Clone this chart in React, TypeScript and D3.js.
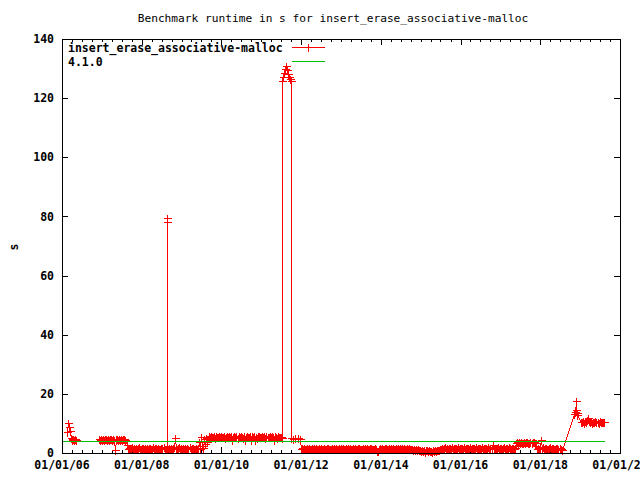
import React from "react";
import * as d3 from "d3";

const W = 640;
const H = 480;
const titleText = "Benchmark runtime in s for insert_erase_associative-malloc";
const seriesName = "insert_erase_associative-malloc";
const refName = "4.1.0";
const yLabel = "s";
const yTicks = [0, 20, 40, 60, 80, 100, 120, 140];
const xMajorTicks = ["2006-01-01", "2008-01-01", "2010-01-01", "2012-01-01", "2014-01-01", "2016-01-01", "2018-01-01", "2020-01-01"];
const xDomain = ["2006-01-01", "2020-01-01"];

const valsA = [7.2, 10.2, 8.9, 7.5, 5.2, 4.6, 4.4, 4.7, 4.3, 4.6, 4.5];
const valsB = [4.6, 4.4, 4.8, 4.5, 4.7, 4.3, 4.6, 4.9, 4.5, 4.7, 4.4, 4.8, 4.6, 4.3, 4.7, 4.5, 1.0, 4.6, 4.8, 4.4, 4.7, 4.5, 4.9, 4.3, 4.6, 4.8, 4.4];
const valsC1 = [
  2.6, 1.5, 1.8, 1.3, 1.6, 1.9, 1.4, 1.7, 1.5, 1.8,
  1.3, 1.6, 1.9, 1.5, 1.4, 1.7, 1.8, 1.3, 1.6, 1.5,
  1.7, 1.4, 1.8, 1.6, 1.3, 1.5, 1.9, 1.4, 1.7, 1.6,
  1.3, 1.8, 1.5, 1.4, 1.7, 1.6, 1.9, 1.3, 1.5, 1.6,
];
const valsSpike1 = [79.3, 78.2];
const valsC2 = [
  1.6, 1.4, 1.8, 1.5, 1.7, 1.3, 1.6, 1.9, 5.0, 1.7,
  1.3, 1.6, 1.9, 1.4, 1.7, 1.5, 1.8, 1.3, 1.6, 1.4,
  1.7, 1.5, 1.9, 1.3, 1.6, 1.8, 1.4, 1.5, 1.7, 1.3,
  1.6, 3.6, 1.5, 5.4, 2.4, 1.8, 4.7, 3.2, 5.0, 3.8,
];
const valsD = [
  5.6, 5.3, 5.8, 5.4, 5.5, 5.7, 5.2, 5.6, 5.5, 5.3,
  5.8, 5.3, 5.6, 5.4, 5.4, 5.7, 5.2, 5.5, 5.8, 5.3,
  5.6, 5.4, 5.7, 4.3, 5.5, 5.8, 5.3, 5.6, 5.2, 5.6,
  5.4, 5.7, 5.5, 5.2, 5.6, 4.4, 5.3, 5.8, 5.5, 5.4,
  5.7, 4.3, 5.6, 5.3, 5.8, 4.4, 5.5, 5.2, 5.6, 5.7,
  5.4, 5.3, 5.8, 5.5, 5.6, 5.2, 5.7, 5.4, 5.5, 5.8,
  5.3, 5.6, 5.4, 4.4, 5.7, 5.5, 5.2, 5.6, 5.4, 5.3,
  5.5, 5.0,
];
const valsSpike2 = [125.8, 127.0, 128.5, 130.0, 130.8, 129.5, 128.0, 127.2, 126.5, 125.8];
const valsPost = [5.0, 4.9, 5.1, 5.0, 4.8];
const valsE = [
  1.3, 1.6, 1.4, 1.8, 1.5, 1.3, 1.7, 1.4, 1.6, 1.2,
  1.5, 1.8, 1.3, 1.6, 1.4, 1.7, 1.3, 1.5, 1.8, 1.4,
  1.6, 1.3, 1.5, 1.7, 1.4, 1.2, 1.6, 1.8, 1.3, 1.5,
  1.4, 1.7, 1.3, 1.6, 1.5, 1.8, 1.4, 1.3, 1.7, 1.5,
  1.6, 1.4, 1.8, 1.3, 1.5, 1.7, 1.4, 1.6, 1.3, 1.8,
  1.5, 1.3, 1.6, 1.4, 1.7, 1.5, 1.2, 1.6, 1.8, 1.4,
  1.3, 1.5, 1.7, 1.4, 1.6, 1.3, 1.8, 1.5, 1.4, 1.6,
  1.7, 1.3, 1.5, 1.4, 1.6, 1.3, 0.6, 0.7, 1.4, 1.6,
  1.3, 1.7, 1.5, 1.4, 1.8, 1.6, 1.3, 1.5, 1.7, 1.4,
  1.6, 1.3, 1.8, 1.5, 1.4, 1.7, 1.3, 1.6, 1.5, 1.8,
  1.4, 1.6, 1.3, 1.7, 1.5, 1.4, 1.8, 1.3, 1.6, 1.5,
  1.4, 1.2, 1.1, 1.3, 0.9, 1.2, 1.0, 1.3, 1.1, 0.9,
  0.6, 1.0, 0.8, 1.1, 0.5, 0.9, 1.0, 0.7, 1.1, 0.8,
  0.6, 0.5, 0.9, 0.7, 1.1, 0.8, 1.0, 0.9, 1.0, 1.2,
  1.5, 1.8, 1.4, 1.6, 1.9, 1.5, 1.7, 1.4, 1.8, 1.6,
  1.5, 1.9, 1.4, 1.7, 1.6, 1.8, 1.5, 1.9, 1.4, 1.7,
  1.6, 1.8, 1.5, 1.9, 1.4, 1.7, 1.6, 1.8, 1.5, 1.9,
  1.4, 1.7, 1.6, 1.8, 1.5, 1.9, 1.4, 1.7, 1.6, 1.8,
  1.5, 1.9, 1.4, 1.7, 1.6, 1.8, 1.5, 1.9, 1.4, 1.7,
  1.6, 2.6, 1.5, 1.8, 1.4, 1.7, 1.9, 1.5, 1.6, 1.8,
  1.4, 1.7, 1.9, 1.5, 1.8, 1.6, 1.4, 1.9, 1.7, 1.5,
  1.8, 1.6, 1.4, 1.7,
];
const valsF = [3.5, 3.8, 3.3, 3.7, 3.4, 3.8, 3.5, 3.3, 3.7, 3.4, 3.6, 3.8, 3.4, 3.5, 3.7, 3.3, 3.6, 3.8, 3.4, 3.5];
const valsG = [1.5, 1.8, 1.4, 1.7, 4.4, 1.5, 1.9, 1.3, 1.6, 1.8, 1.4, 1.5, 1.7, 1.9, 1.4, 1.6, 1.8, 1.5, 1.3, 1.7, 1.6, 1.4, 1.8, 1.5, 1.0];
const valsH = [13.2, 14.0, 17.6, 14.5, 13.5, 13.0];
const valsI = [10.6, 10.4, 10.8, 10.3, 10.7, 10.5, 11.0, 11.8, 10.7, 10.4, 10.9, 10.3, 10.6, 10.5, 10.8, 10.4, 10.6, 10.3, 10.7, 10.5, 10.6, 10.4, 10.6];

const segStart = ["2006-02-14", "2006-12-05", "2007-08-20", "2008-08-17", "2008-08-21", "2009-09-05", "2011-07-12", "2011-09-29", "2011-12-30", "2017-05-20", "2017-11-28", "2018-11-10", "2019-01-08"];
const segEnd = ["2006-05-12", "2007-08-05", "2008-08-16", "2008-08-19", "2009-08-20", "2011-07-10", "2011-09-27", "2011-12-20", "2017-05-10", "2017-11-20", "2018-07-15", "2018-12-05", "2019-08-05"];
const segBreak = [false, true, false, false, false, false, false, false, false, false, false, false, false];
const segValues = [valsA, valsB, valsC1, valsSpike1, valsC2, valsD, valsSpike2, valsPost, valsE, valsF, valsG, valsH, valsI];

const refDates = ["2006-01-01", "2019-08-05"];
const refValues = [3.9, 3.9];

const RED = "#ff0000";
const GREEN = "#00c000";
const FONT = "'DejaVu Sans Mono', 'Liberation Mono', monospace";

type Pt = { d: Date; v: number } | null;

export default function App() {
  const parse = d3.utcParse("%Y-%m-%d");
  const left = 62, right = 620, top = 39, bottom = 453;
  const x = d3.scaleUtc().domain(xDomain.map((s) => parse(s)!)).range([left, right]);
  const y = d3.scaleLinear().domain([0, 140]).range([bottom, top]);

  const pts: Pt[] = [];
  segValues.forEach((vals, i) => {
    if (segBreak[i]) pts.push(null);
    const t0 = parse(segStart[i])!.getTime();
    const t1 = parse(segEnd[i])!.getTime();
    const n = vals.length;
    vals.forEach((v, j) => {
      const t = n > 1 ? t0 + ((t1 - t0) * j) / (n - 1) : t0;
      pts.push({ d: new Date(t), v });
    });
  });

  const line = d3
    .line<Pt>()
    .defined((p) => p !== null)
    .x((p) => Math.round(x(p!.d)) + 0.5)
    .y((p) => Math.round(y(p!.v)) + 0.5);

  const refPts: Pt[] = refDates.map((s, i) => ({ d: parse(s)!, v: refValues[i] }));

  const marker = (cx: number, cy: number) => {
    const X = Math.round(cx) + 0.5;
    const Y = Math.round(cy) + 0.5;
    return `M${X - 4},${Y}H${X + 4}M${X},${Y - 4}V${Y + 4}`;
  };
  const markersPath = pts
    .filter((p) => p !== null)
    .map((p) => marker(x(p!.d), y(p!.v)))
    .join("");

  const majors = xMajorTicks.map((s) => parse(s)!);
  const minors = d3.utcMonth
    .every(3)!
    .range(parse(xDomain[0])!, parse(xDomain[1])!)
    .filter((d) => !majors.some((m) => m.getTime() === d.getTime()));
  const fmt = d3.utcFormat("%m/%d/%y");

  const bx = (v: number) => Math.round(v) + 0.5;

  return (
    <svg
      width={W}
      height={H}
      style={{ position: "absolute", left: 0, top: 0, display: "block", background: "#fff" }}
      shapeRendering="crispEdges"
    >
      <rect x={0} y={0} width={W} height={H} fill="#fff" />
      <text x={333} y={22} fontFamily={FONT} fontSize={11.2} textAnchor="middle" fill="#000">
        {titleText}
      </text>
      <text
        transform={`translate(18,247) rotate(-90)`}
        fontFamily={FONT}
        fontSize={11.5}
        fontWeight="bold"
        textAnchor="middle"
        fill="#000"
      >
        {yLabel}
      </text>
      {yTicks.map((t) => (
        <g key={"y" + t}>
          <line x1={left} x2={left + 6} y1={bx(y(t))} y2={bx(y(t))} stroke="#000" />
          <line x1={right - 6} x2={right} y1={bx(y(t))} y2={bx(y(t))} stroke="#000" />
          <text x={54} y={y(t)} dy="0.36em" fontFamily={FONT} fontSize={11.5} fontWeight="bold" textAnchor="end" fill="#000">
            {t}
          </text>
        </g>
      ))}
      {majors.map((d) => (
        <g key={"x" + d.getTime()}>
          <line x1={bx(x(d))} x2={bx(x(d))} y1={bottom} y2={bottom - 6} stroke="#000" />
          <line x1={bx(x(d))} x2={bx(x(d))} y1={top} y2={top + 6} stroke="#000" />
          <text x={x(d)} y={469} fontFamily={FONT} fontSize={11.5} fontWeight="bold" textAnchor="middle" fill="#000">
            {fmt(d)}
          </text>
        </g>
      ))}
      {minors.map((d) => (
        <g key={"m" + d.getTime()}>
          <line x1={bx(x(d))} x2={bx(x(d))} y1={bottom} y2={bottom - 3} stroke="#000" />
          <line x1={bx(x(d))} x2={bx(x(d))} y1={top} y2={top + 3} stroke="#000" />
        </g>
      ))}
      <path d={line(pts) || ""} fill="none" stroke={RED} strokeWidth={1} />
      <path d={markersPath} fill="none" stroke={RED} strokeWidth={1} />
      <path d={line(refPts) || ""} fill="none" stroke={GREEN} strokeWidth={1} />
      <rect x={bx(left)} y={bx(top)} width={right - left} height={bottom - top} fill="none" stroke="#000" />
      <text x={68} y={52} fontFamily={FONT} fontSize={11.5} fontWeight="bold" fill="#000">
        {seriesName}
      </text>
      <text x={68} y={66} fontFamily={FONT} fontSize={11.5} fontWeight="bold" fill="#000">
        {refName}
      </text>
      <line x1={292} x2={325} y1={47.5} y2={47.5} stroke={RED} />
      <path d={marker(308, 47)} stroke={RED} fill="none" />
      <line x1={292} x2={325} y1={61.5} y2={61.5} stroke={GREEN} />
    </svg>
  );
}
